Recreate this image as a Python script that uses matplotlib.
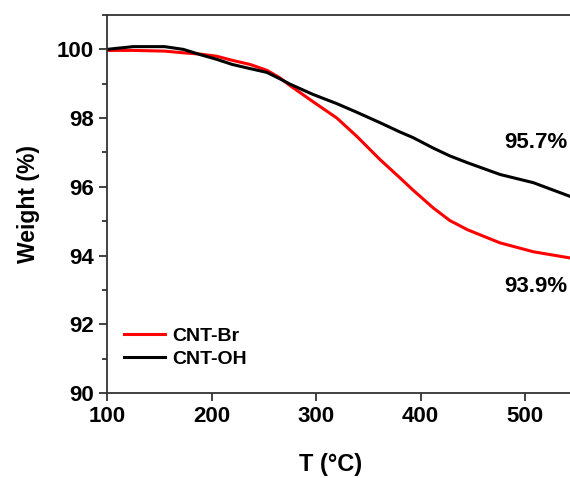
import matplotlib
matplotlib.use("Agg")
import matplotlib.pyplot as plt
from matplotlib.ticker import MultipleLocator

# -------------------------------
# DATA
# -------------------------------
temp = [100, 125, 155, 173, 190, 205, 220, 237, 253, 265, 275, 297, 320, 339,
        361, 380, 393, 412, 428, 445, 476, 508, 545]
w_br = [99.97, 99.97, 99.95, 99.9, 99.86, 99.8, 99.68, 99.56, 99.39, 99.18,
        98.95, 98.48, 98.0, 97.47, 96.8, 96.27, 95.9, 95.39, 95.02, 94.75,
        94.37, 94.11, 93.92]
w_oh = [100.0, 100.08, 100.08, 100.0, 99.84, 99.71, 99.56, 99.44, 99.33, 99.15,
        98.99, 98.69, 98.42, 98.17, 97.87, 97.6, 97.43, 97.13, 96.9, 96.7,
        96.36, 96.12, 95.7]
labels = ["CNT-Br", "CNT-OH"]
notes = ["95.7%", "93.9%"]

plt.rcParams["font.family"] = ["Liberation Sans", "DejaVu Sans"]
plt.rcParams["font.weight"] = "bold"

fig = plt.figure(figsize=(5.7, 4.78), dpi=100)
ax = fig.add_axes([0.1877, 0.1778, 0.8123, 0.7908])

ax.plot(temp, w_br, color="#ff0000", lw=2.2, label=labels[0])
ax.plot(temp, w_oh, color="black", lw=2.2, label=labels[1])

ax.set_xlim(100, 543)
ax.set_ylim(90, 101)
ax.xaxis.set_major_locator(MultipleLocator(100))
ax.yaxis.set_major_locator(MultipleLocator(2))
ax.yaxis.set_minor_locator(MultipleLocator(1))

for s in ["left", "bottom", "top"]:
    ax.spines[s].set_linewidth(1.3)
    ax.spines[s].set_color("#333333")
ax.spines["right"].set_visible(False)
ax.tick_params(which="major", direction="out", length=6, width=1.3,
               labelsize=16, color="#333333")
ax.tick_params(which="minor", direction="out", length=3.5, width=1.3,
               color="#333333")
ax.tick_params(axis="x", which="minor", length=0)
for lab in ax.get_xticklabels() + ax.get_yticklabels():
    lab.set_fontweight("bold")

ax.set_xlabel("T (°C)", fontsize=17, fontweight="bold")
ax.xaxis.set_label_coords(0.482, -0.16)
ax.set_ylabel("Weight (%)", fontsize=16.5, fontweight="bold", labelpad=12)

ax.text(510, 97.29, notes[0], fontsize=16, fontweight="bold",
        ha="center", va="center")
ax.text(510, 93.09, notes[1], fontsize=16, fontweight="bold",
        ha="center", va="center")

ax.legend(loc="lower left", bbox_to_anchor=(0.0, 0.02), frameon=False,
          prop={"size": 14, "weight": "bold"}, handlelength=2.1,
          handletextpad=0.35, labelspacing=0.3)

fig.savefig("out.png", dpi=100)
